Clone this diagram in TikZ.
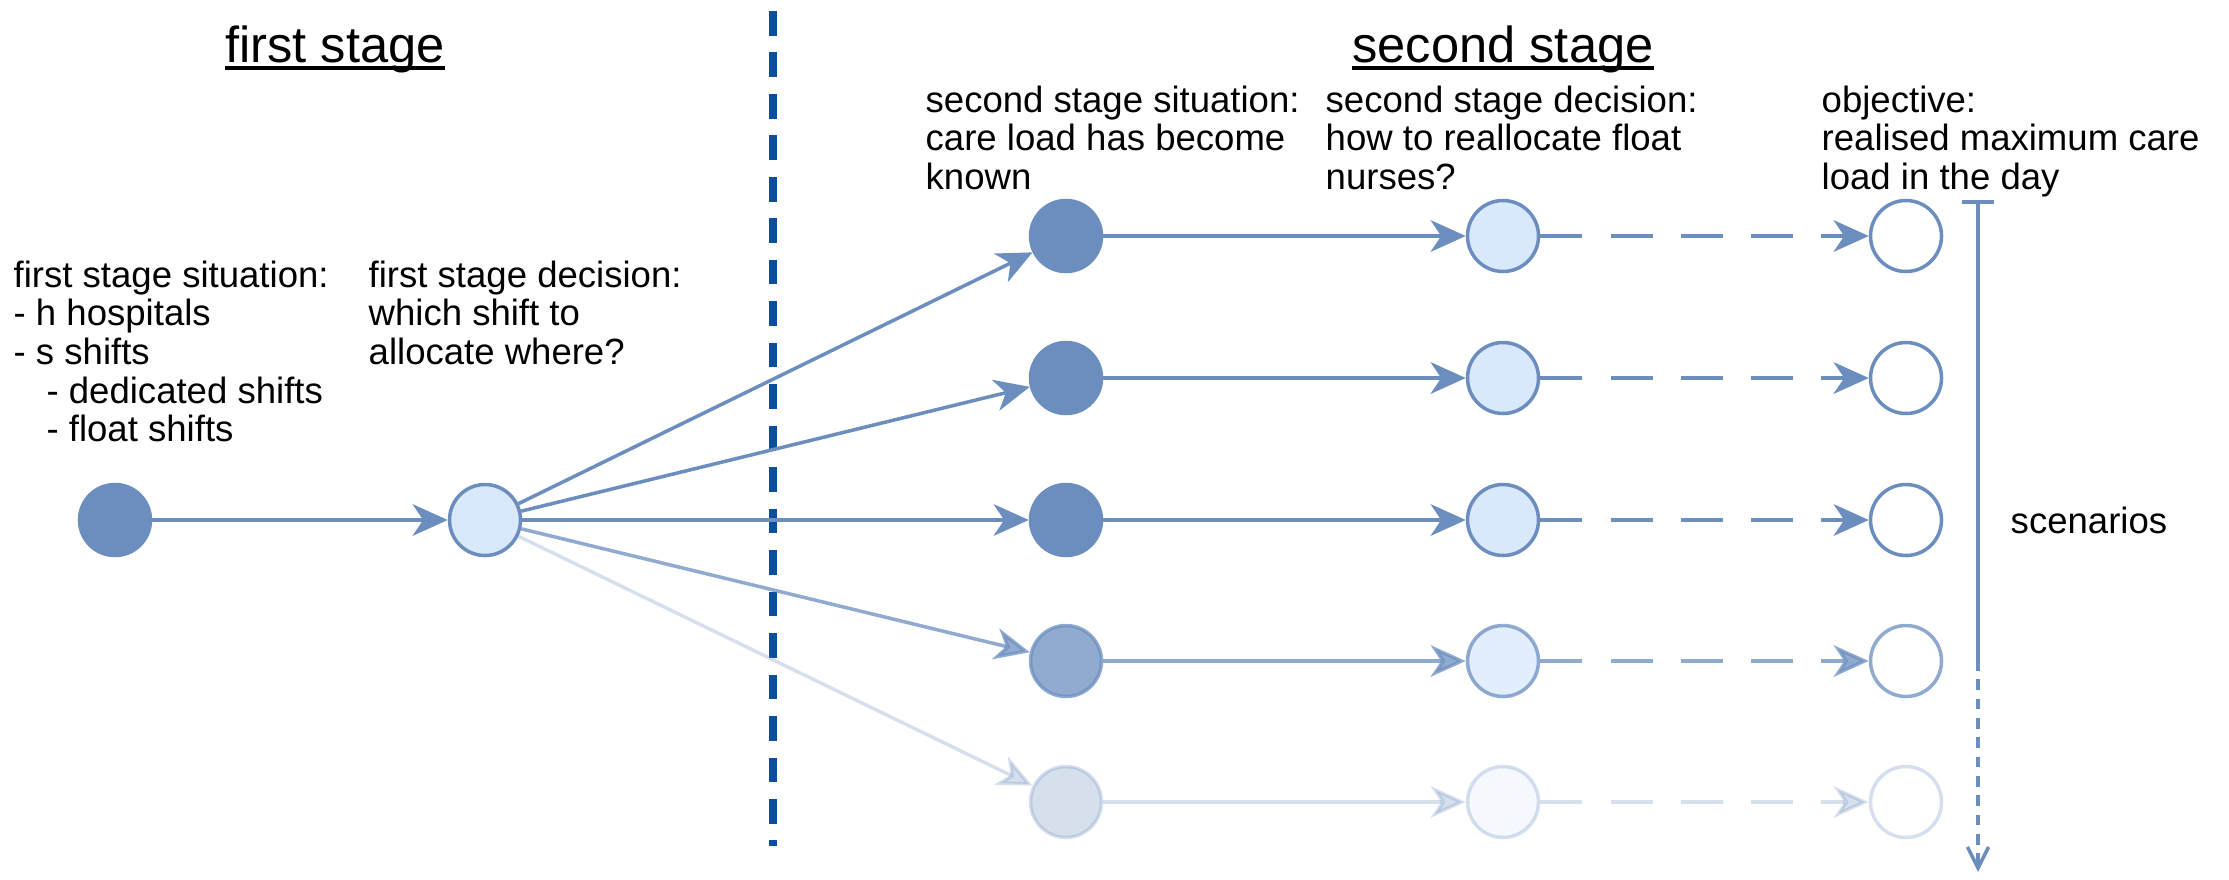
\documentclass[tikz,border=0pt]{standalone}
\usepackage{fontspec}
\setmainfont{Liberation Sans}
\usetikzlibrary{arrows.meta}
\definecolor{nodeBlue}{HTML}{6C8EBF}
\definecolor{nodeFill}{HTML}{DAE8FC}
\definecolor{divBlue}{HTML}{0B4F9C}

\begin{document}
\begin{tikzpicture}[
    sit/.style={circle, draw=nodeBlue, fill=nodeBlue, line width=1pt,
                minimum size=0.71cm, inner sep=0pt},
    dec/.style={sit, fill=nodeFill},
    obj/.style={sit, fill=white},
    flow/.style={draw=nodeBlue, line width=1pt,
                 -{Stealth[length=10pt, width=9pt, inset=3pt]}},
    flowdash/.style={flow, dash pattern=on 12pt off 8pt},
    txt/.style={font=\fontsize{10.4}{11}\selectfont, align=left,
                anchor=north west, inner sep=0pt},
    title/.style={font=\fontsize{14.4}{16}\selectfont, anchor=base, inner sep=0pt},
  ]
    \useasboundingbox (0,0) rectangle (22.29,8.79);

    % headings and stage divider
    \node[title] (first) at (3.35,8.17) {first stage};
    \node[title] (second) at (15.03,8.17) {second stage};
    \draw[line width=0.9pt] ([yshift=-1.7pt]first.base west) -- ([yshift=-1.7pt]first.base east);
    \draw[line width=0.9pt] ([yshift=-1.7pt]second.base west) -- ([yshift=-1.7pt]second.base east);
    \coordinate (divTop) at (7.73,8.68);
    \coordinate (divBot) at (7.73,0.33);
    \draw[divBlue, line width=2pt, dash pattern=on 7pt off 4.8pt] (divTop) -- (divBot);

    % texts
    \node[txt] (sit1) at (0.13,6.19) {first stage situation:\\- h hospitals\\- s shifts\\
      \hspace{0.9em}- dedicated shifts\\\hspace{0.9em}- float shifts};
    \node[txt] (dec1) at (3.68,6.19) {first stage decision:\\which shift to\\allocate where?};
    \node[txt] (sit2) at (9.25,7.94) {second stage situation:\\care load has become\\known};
    \node[txt] (dec2) at (13.25,7.94) {second stage decision:\\how to reallocate float\\nurses?};
    \node[txt] (goal) at (18.21,7.94) {objective:\\realised maximum care\\load in the day};
    \node[txt, anchor=west] (scen) at (20.10,3.59) {scenarios};

    % first stage
    \node[sit] (a) at (1.15,3.59) {};
    \node[dec] (b) at (4.85,3.59) {};
    \draw[flow] (a) -- (b);

    % second stage, one row per scenario
    \node[sit] (c1) at (10.66,6.43) {};
    \node[dec] (d1) at (15.03,6.43) {};
    \node[obj] (e1) at (19.06,6.43) {};
    \node[sit] (c2) at (10.66,5.01) {};
    \node[dec] (d2) at (15.03,5.01) {};
    \node[obj] (e2) at (19.06,5.01) {};
    \node[sit] (c3) at (10.66,3.59) {};
    \node[dec] (d3) at (15.03,3.59) {};
    \node[obj] (e3) at (19.06,3.59) {};
    \node[sit, opacity=0.75] (c4) at (10.66,2.18) {};
    \node[dec, opacity=0.75] (d4) at (15.03,2.18) {};
    \node[obj, opacity=0.75] (e4) at (19.06,2.18) {};
    \node[sit, opacity=0.28] (c5) at (10.66,0.77) {};
    \node[dec, opacity=0.28] (d5) at (15.03,0.77) {};
    \node[obj, opacity=0.28] (e5) at (19.06,0.77) {};

    \draw[flow] (b) -- (c1);
    \draw[flow] (b) -- (c2);
    \draw[flow] (b) -- (c3);
    \draw[flow, opacity=0.75] (b) -- (c4);
    \draw[flow, opacity=0.28] (b) -- (c5);
    \draw[flow] (c1) -- (d1);
    \draw[flow] (c2) -- (d2);
    \draw[flow] (c3) -- (d3);
    \draw[flow, opacity=0.75] (c4) -- (d4);
    \draw[flow, opacity=0.28] (c5) -- (d5);
    \draw[flowdash] (d1) -- (e1);
    \draw[flowdash] (d2) -- (e2);
    \draw[flowdash] (d3) -- (e3);
    \draw[flowdash, opacity=0.75] (d4) -- (e4);
    \draw[flowdash, opacity=0.28] (d5) -- (e5);

    % scenario axis
    \coordinate (scTop) at (19.78,6.79);
    \coordinate (scMid) at (19.78,2.19);
    \coordinate (scEnd) at (19.78,0.07);
    \draw[nodeBlue, line width=1pt, {Bar[width=9pt]}-] (scTop) -- (scMid);
    \draw[nodeBlue, line width=1pt, dash pattern=on 3pt off 2.5pt,
          -{Straight Barb[length=6pt, width=6pt]}] (scMid) -- (scEnd);
  \end{tikzpicture}
\end{document}
